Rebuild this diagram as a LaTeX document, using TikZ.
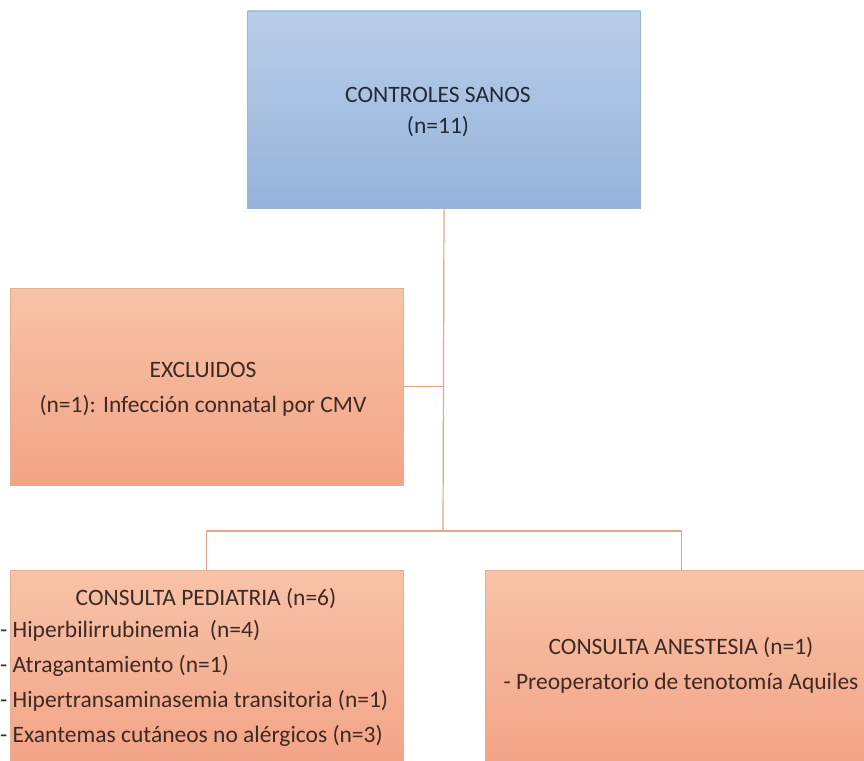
\documentclass[tikz,border=0pt]{standalone}
\usepackage{fontspec}
\setmainfont{Carlito}

\definecolor{azulA}{HTML}{BACEE9}
\definecolor{azulB}{HTML}{94B3DA}
\definecolor{azulL}{HTML}{9DB2CE}
\definecolor{narA}{HTML}{F7C3A8}
\definecolor{narB}{HTML}{F3A385}
\definecolor{narL}{HTML}{E4AE96}
\definecolor{linea}{HTML}{E2A586}
\definecolor{txtA}{HTML}{222A36}
\definecolor{txtN}{HTML}{3E2A23}

\tikzset{
    caja/.style={rectangle,line width=0.8pt,minimum width=393pt,minimum height=197pt,inner sep=0pt},
    cajaAzul/.style={caja,draw=azulL,top color=azulA,bottom color=azulB},
    cajaNar/.style={caja,draw=narL,top color=narA,bottom color=narB},
    texto/.style={inner sep=0pt,font=\fontsize{23.5}{35}\selectfont}
}

\begin{document}
\begin{tikzpicture}[x=1pt,y=-1pt]
    \path[clip] (0,0) rectangle (864,760);

    \node[cajaAzul] at (444,109.5) (sanos) {};
    \node[cajaNar] at (206.5,386.5) (excl) {};
    \node[cajaNar] at (206.5,668.5) (pedia) {};
    \node[cajaNar] at (681.5,668.5) (anest) {};

    \coordinate (j1) at (443,531);

	\path[draw=linea,line width=1.2pt] (sanos.south) -- (j1);
	\path[draw=linea,line width=1.2pt] (excl.east) -- (excl.east -| sanos.south);
	\path[draw=linea,line width=1.2pt] (pedia.north) |- (j1) -| (anest.north);

    \node[texto,text=txtA,align=center,font=\fontsize{23.5}{31}\selectfont] at (438,112) (t1) {CONTROLES SANOS\\(n=11)};
    \node[texto,text=txtN,align=center] at (203,389) (t2) {EXCLUIDOS\\(n=1): Infecci\'on connatal por CMV};
    \node[texto,text=txtN,anchor=base] at (206,605) (t3) {CONSULTA PEDIATRIA (n=6)};
    \node[texto,text=txtN,align=left,anchor=north west] at (0,620) (t4) {- Hiperbilirrubinemia \ (n=4)\\- Atragantamiento (n=1)\\- Hipertransaminasemia transitoria (n=1)\\- Exantemas cut\'aneos no al\'ergicos (n=3)};
    \node[texto,text=txtN,align=center] at (681,665) (t5) {CONSULTA ANESTESIA (n=1)\\- Preoperatorio de tenotom\'ia Aquiles};
\end{tikzpicture}
\end{document}
